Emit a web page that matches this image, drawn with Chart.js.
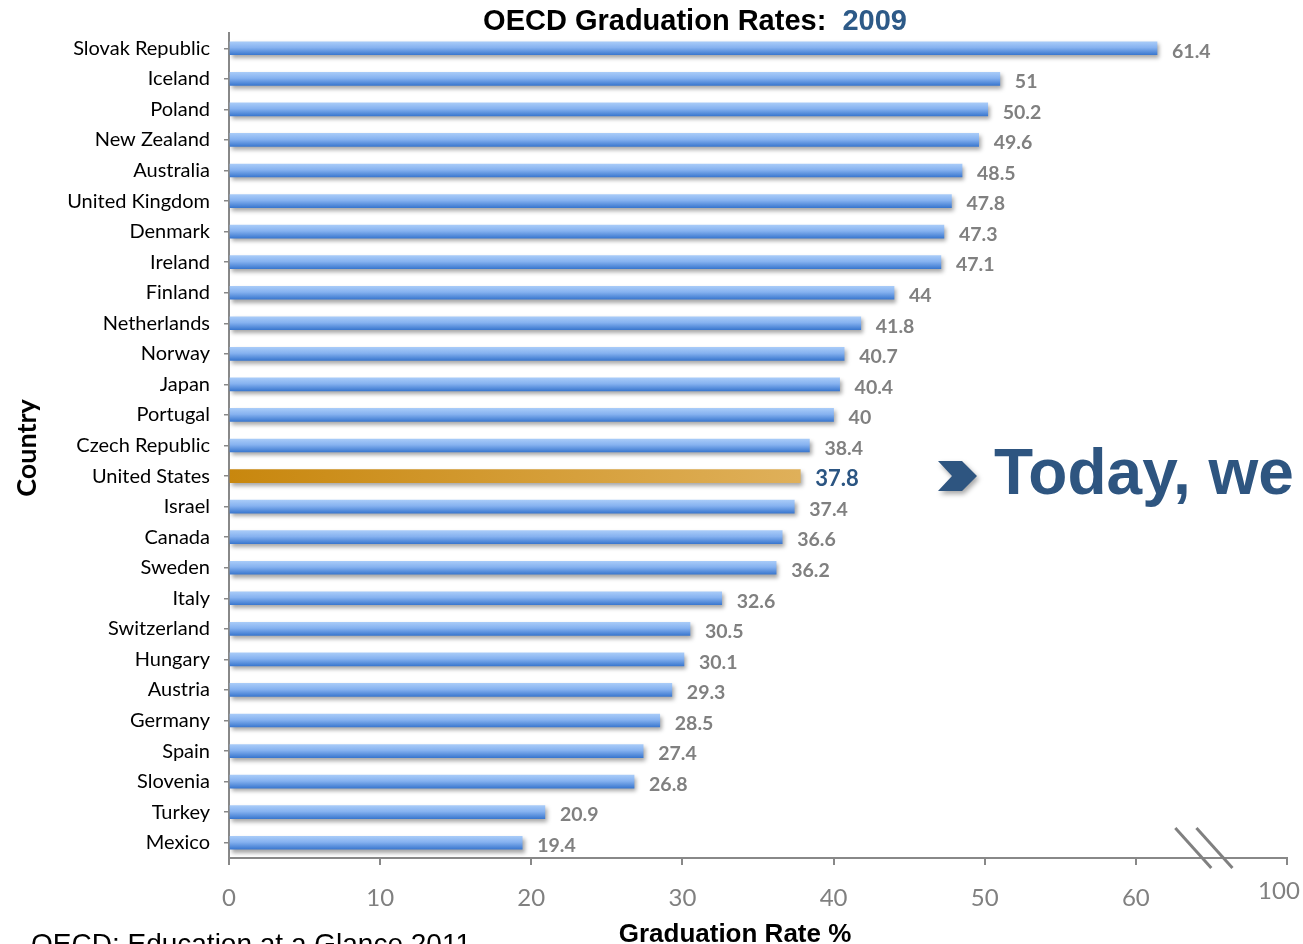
<!DOCTYPE html>
<html>
<head>
<meta charset="utf-8">
<script src="https://cdn.jsdelivr.net/npm/chart.js@4.4.1/dist/chart.umd.min.js"></script>
<style>
  html, body { margin: 0; padding: 0; background: #fff; }
  #wrap { width: 1303px; height: 944px; position: relative; }
</style>
</head>
<body>
<div id="wrap"><canvas id="gradChart"></canvas></div>
<script>
const countries = ['Slovak Republic', 'Iceland', 'Poland', 'New Zealand', 'Australia', 'United Kingdom',
    'Denmark', 'Ireland', 'Finland', 'Netherlands', 'Norway', 'Japan', 'Portugal', 'Czech Republic',
    'United States', 'Israel', 'Canada', 'Sweden', 'Italy', 'Switzerland', 'Hungary', 'Austria',
    'Germany', 'Spain', 'Slovenia', 'Turkey', 'Mexico'];
const rates = [61.4, 51, 50.2, 49.6, 48.5, 47.8, 47.3, 47.1, 44, 41.8, 40.7, 40.4, 40, 38.4,
    37.8, 37.4, 36.6, 36.2, 32.6, 30.5, 30.1, 29.3, 28.5, 27.4, 26.8, 20.9, 19.4];
const xTicks = [0, 10, 20, 30, 40, 50, 60, 70];
const xTickLabels = ['0', '10', '20', '30', '40', '50', '60', '100'];
const highlight = 'United States';

const sansCal = 'Lato, "Open Sans", sans-serif';
const sansArial = '"Liberation Sans", Arial, sans-serif';
const lastTick = xTicks[xTicks.length - 1];

function barFill(context) {
    const chart = context.chart;
    const ys = chart.scales.y, xs = chart.scales.x;
    if (!ys || !xs || !chart.chartArea) return '#6a9fe8';
    const ctx = chart.ctx;
    const i = context.dataIndex;
    if (countries[i] === highlight) {
        const g = ctx.createLinearGradient(xs.getPixelForValue(0), 0, xs.getPixelForValue(rates[i]), 0);
        g.addColorStop(0, '#c8870e');
        g.addColorStop(1, '#dfb05a');
        return g;
    }
    const y = ys.getPixelForValue(i);
    const g = ctx.createLinearGradient(0, y - 6.5, 0, y + 6.5);
    g.addColorStop(0, '#a8cbf8');
    g.addColorStop(0.45, '#86b2f0');
    g.addColorStop(1, '#3b78cf');
    return g;
}

const decorPlugin = {
    id: 'decor',
    beforeDatasetsDraw(chart) {
        const ctx = chart.ctx;
        ctx.save();
        ctx.shadowColor = 'rgba(0,0,0,0.35)';
        ctx.shadowBlur = 4;
        ctx.shadowOffsetX = 2;
        ctx.shadowOffsetY = 3;
    },
    afterDatasetsDraw(chart) {
        const ctx = chart.ctx;
        ctx.restore();
        const meta = chart.getDatasetMeta(0);
        ctx.save();
        ctx.textBaseline = 'middle';
        ctx.textAlign = 'left';
        meta.data.forEach((bar, i) => {
            if (countries[i] === highlight) {
                ctx.font = 'bold 22px ' + sansCal;
                ctx.fillStyle = '#2b5582';
            } else {
                ctx.font = 'bold 19.5px ' + sansCal;
                ctx.fillStyle = '#808080';
            }
            ctx.fillText(String(rates[i]), bar.x + 15, bar.y + 3);
        });
        ctx.restore();
    },
    afterDraw(chart) {
        const ctx = chart.ctx;
        const xs = chart.scales.x;
        const area = chart.chartArea;
        ctx.save();

        // title
        ctx.textBaseline = 'alphabetic';
        ctx.textAlign = 'left';
        ctx.font = 'bold 29px ' + sansArial;
        const t1 = 'OECD Graduation Rates:  ';
        const w1 = ctx.measureText(t1).width;
        const w2 = ctx.measureText('2009').width;
        const tx = 695 - (w1 + w2) / 2;
        ctx.fillStyle = '#000';
        ctx.fillText(t1, tx, 30);
        ctx.fillStyle = '#2d5a88';
        ctx.fillText('2009', tx + w1, 30);

        // end-of-axis label (sits a bit up and left of its tick)
        ctx.fillStyle = '#808080';
        ctx.font = '24px ' + sansCal;
        ctx.textAlign = 'center';
        ctx.fillText(xTickLabels[xTicks.length - 1], xs.getPixelForValue(lastTick) - 8, area.bottom + 41);

        // axis titles
        ctx.fillStyle = '#000';
        ctx.font = 'bold 26px ' + sansArial;
        ctx.fillText('Graduation Rate %', 735, 942);
        ctx.save();
        ctx.translate(36, 448);
        ctx.rotate(-Math.PI / 2);
        ctx.font = 'bold 27px ' + sansCal;
        ctx.fillText('Country', 0, 0);
        ctx.restore();

        // source, cut off at the bottom
        ctx.textAlign = 'left';
        ctx.font = '28px ' + sansArial;
        ctx.fillText('OECD: Education at a Glance 2011', 31, 953);

        // axis break marks
        ctx.strokeStyle = '#808080';
        ctx.lineWidth = 3;
        const b = area.bottom;
        [63.8, 65.2].forEach(v => {
            const px = xs.getPixelForValue(v);
            ctx.beginPath();
            ctx.moveTo(px - 18, b - 30);
            ctx.lineTo(px + 18, b + 10);
            ctx.stroke();
        });

        // callout
        ctx.shadowColor = 'rgba(0,0,0,0.35)';
        ctx.shadowBlur = 5;
        ctx.shadowOffsetX = 2;
        ctx.shadowOffsetY = 3;
        ctx.fillStyle = '#2e5580';
        ctx.beginPath();
        ctx.moveTo(938, 461);
        ctx.lineTo(962, 461);
        ctx.lineTo(977, 476);
        ctx.lineTo(962, 491);
        ctx.lineTo(938, 491);
        ctx.lineTo(952, 476);
        ctx.closePath();
        ctx.fill();
        ctx.shadowColor = 'transparent';
        ctx.font = 'bold 64px ' + sansArial;
        ctx.fillText('Today, we', 994, 494);
        ctx.restore();
    }
};

const ctx = document.getElementById('gradChart').getContext('2d');
const chart = new Chart(ctx, {
    type: 'bar',
    data: {
        labels: countries,
        datasets: [{
            data: rates,
            backgroundColor: barFill,
            borderWidth: 0,
            barThickness: 13
        }]
    },
    options: {
        indexAxis: 'y',
        responsive: true,
        maintainAspectRatio: false,
        animation: false,
        layout: { padding: { left: 0, right: 16, top: 33, bottom: 0 } },
        plugins: {
            legend: { display: false },
            tooltip: { enabled: false }
        },
        scales: {
            x: {
                min: 0,
                max: lastTick,
                afterFit: s => { s.height = 86; s.paddingLeft = 0; s.paddingRight = 0; },
                afterBuildTicks: s => { s.ticks = xTicks.map(v => ({ value: v })); },
                ticks: {
                    color: '#808080',
                    font: { family: sansCal, size: 24 },
                    padding: 19,
                    maxRotation: 0,
                    // the end label is drawn by the plugin, offset like the original
                    callback: (v) => v === lastTick ? '' : xTickLabels[xTicks.indexOf(v)]
                },
                grid: { drawOnChartArea: false, color: '#888', lineWidth: 2, tickLength: 7 },
                border: { color: '#888', width: 2 }
            },
            y: {
                afterFit: s => { s.width = 229; },
                ticks: {
                    color: '#000',
                    font: { family: sansCal, size: 20 },
                    padding: 14
                },
                grid: { drawOnChartArea: false, offset: false, color: '#888', lineWidth: 1.5, tickLength: 5 },
                border: { color: '#888', width: 2 }
            }
        }
    },
    plugins: [decorPlugin]
});
</script>
</body>
</html>
